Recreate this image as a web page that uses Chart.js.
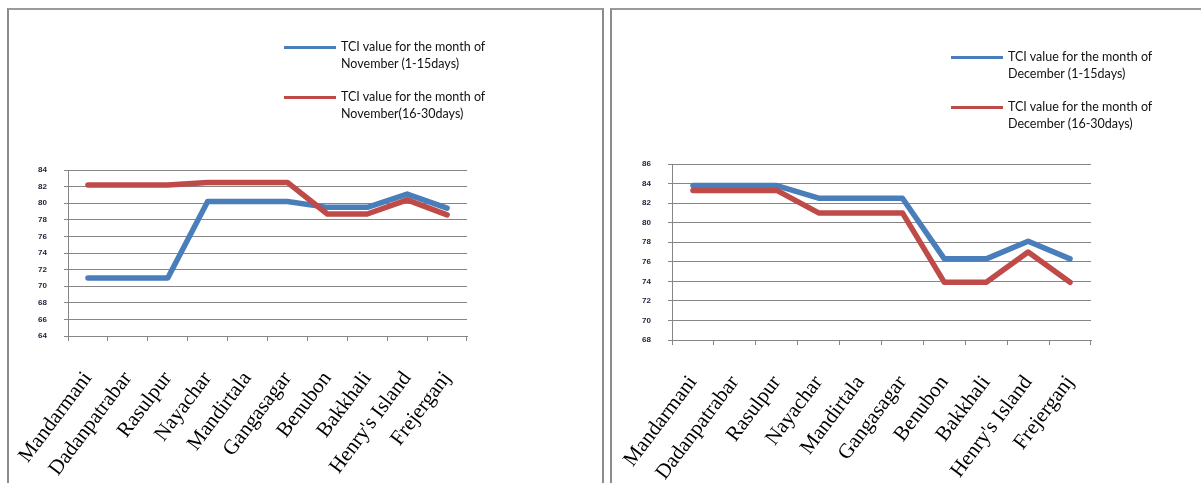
<!DOCTYPE html>
<html>
<head>
<meta charset="utf-8">
<script src="https://cdn.jsdelivr.net/npm/chart.js@4/dist/chart.umd.min.js"></script>
<style>
  html, body { margin: 0; padding: 0; background: #fff; }
  body { width: 1201px; height: 483px; position: relative; overflow: hidden; }
  .panel { position: absolute; box-sizing: border-box; border-top: 2px solid #9a9a9a; border-left: 2px solid #8c8c8c; }
  #panelNov { left: 7px; top: 8px; width: 597px; height: 480px; border-right: 2px solid #8c8c8c; }
  #panelDec { left: 610px; top: 8px; width: 600px; height: 480px; }
  canvas { position: absolute; }
  #chartNov { left: 10px; top: 12px; }
  #chartDec { left: 613px; top: 12px; }
  .legend { position: absolute; font-family: Lato, "Liberation Sans", sans-serif; font-size: 12.5px; color: #111; line-height: 17px; }
  .legend .item { position: relative; height: 50px; }
  .legend .swatch { position: absolute; left: 0; width: 52px; height: 3px; top: 7px; }
  .legend .text { position: absolute; left: 57px; top: -1px; white-space: nowrap; }
</style>
</head>
<body>
<div class="panel" id="panelNov"></div>
<div class="panel" id="panelDec"></div>
<canvas id="chartNov" width="590" height="471"></canvas>
<canvas id="chartDec" width="588" height="471"></canvas>
<div class="legend" id="legendNov" style="left:284px; top:39px;"></div>
<div class="legend" id="legendDec" style="left:951px; top:49px;"></div>
<script>
// Coastal sites along the x axis
const categories = ['Mandarmani', 'Dadanpatrabar', 'Rasulpur', 'Nayachar', 'Mandirtala',
  'Gangasagar', 'Benubon', 'Bakkhali', "Henry's Island", 'Frejerganj'];

// TCI values, November
const novFirstHalf  = [71.0, 71.0, 71.0, 80.2, 80.2, 80.2, 79.5, 79.5, 81.1, 79.4];
const novSecondHalf = [82.2, 82.2, 82.2, 82.5, 82.5, 82.5, 78.7, 78.7, 80.4, 78.6];

// TCI values, December
const decFirstHalf  = [83.8, 83.8, 83.8, 82.5, 82.5, 82.5, 76.3, 76.3, 78.1, 76.3];
const decSecondHalf = [83.3, 83.3, 83.3, 81.0, 81.0, 81.0, 73.9, 73.9, 77.0, 73.9];

// Series names (two lines each)
const novLabels = [['TCI value for the month of', 'November (1-15days)'],
                   ['TCI value for the month of', 'November(16-30days)']];
const decLabels = [['TCI value for the month of', 'December (1-15days)'],
                   ['TCI value for the month of', 'December (16-30days)']];

// Value axis ranges: [min, max, step]
const novAxis = [64, 84, 2];
const decAxis = [68, 86, 2];

const BLUE = '#4A7EBB';
const RED = '#BE4B48';
const GRID = '#868686';

function buildLegend(id, labels, colors) {
  const box = document.getElementById(id);
  labels.forEach((lines, i) => {
    const item = document.createElement('div');
    item.className = 'item';
    const sw = document.createElement('div');
    sw.className = 'swatch';
    sw.style.background = colors[i];
    const tx = document.createElement('div');
    tx.className = 'text';
    tx.innerHTML = lines.join('<br>');
    item.appendChild(sw);
    item.appendChild(tx);
    box.appendChild(item);
  });
}

function makeChart(canvasId, labels, first, second, axis, geom) {
  const ctx = document.getElementById(canvasId);
  return new Chart(ctx, {
    type: 'line',
    data: {
      labels: categories,
      datasets: [
        { label: labels[0].join(' '), data: first, borderColor: BLUE, backgroundColor: BLUE,
          borderWidth: 5.5, pointRadius: 0, tension: 0, order: 1, borderCapStyle: 'round', borderJoinStyle: 'round' },
        { label: labels[1].join(' '), data: second, borderColor: RED, backgroundColor: RED,
          borderWidth: 5.5, pointRadius: 0, tension: 0, order: 0, borderCapStyle: 'round', borderJoinStyle: 'round' }
      ]
    },
    options: {
      responsive: false,
      animation: false,
      events: [],
      layout: { padding: { left: geom.left, top: geom.top, right: geom.right, bottom: 0 } },
      plugins: { legend: { display: false }, tooltip: { enabled: false } },
      scales: {
        x: {
          type: 'category',
          offset: true,
          grid: { offset: true, drawOnChartArea: false, drawTicks: true, tickLength: 5, color: GRID },
          border: { color: GRID },
          ticks: {
            autoSkip: false, minRotation: 53, maxRotation: 53, padding: 26,
            color: '#000', font: { family: '"Liberation Serif", "Times New Roman", serif', size: 21 }
          },
          afterFit(s) {
            s.height = geom.xHeight;
            // rotated labels may hang past the plot edges; keep the plot box fixed
            s.paddingLeft = 0;
            s.paddingRight = 0;
          }
        },
        y: {
          min: axis[0], max: axis[1],
          grid: { color: GRID, tickLength: 4 },
          border: { color: GRID },
          ticks: {
            stepSize: axis[2], padding: 17, color: '#1e1e38',
            font: { family: '"Liberation Sans", Arial, sans-serif', size: 8, weight: 'bold' }
          },
          afterFit(s) { s.width = 30; s.paddingTop = 0; s.paddingBottom = 0; }
        }
      }
    }
  });
}

buildLegend('legendNov', novLabels, [BLUE, RED]);
buildLegend('legendDec', decLabels, [BLUE, RED]);

makeChart('chartNov', novLabels, novFirstHalf, novSecondHalf, novAxis,
  { left: 28, top: 158, right: 133, xHeight: 147 });
makeChart('chartDec', decLabels, decFirstHalf, decSecondHalf, decAxis,
  { left: 29, top: 152, right: 110, xHeight: 143 });
</script>
</body>
</html>
